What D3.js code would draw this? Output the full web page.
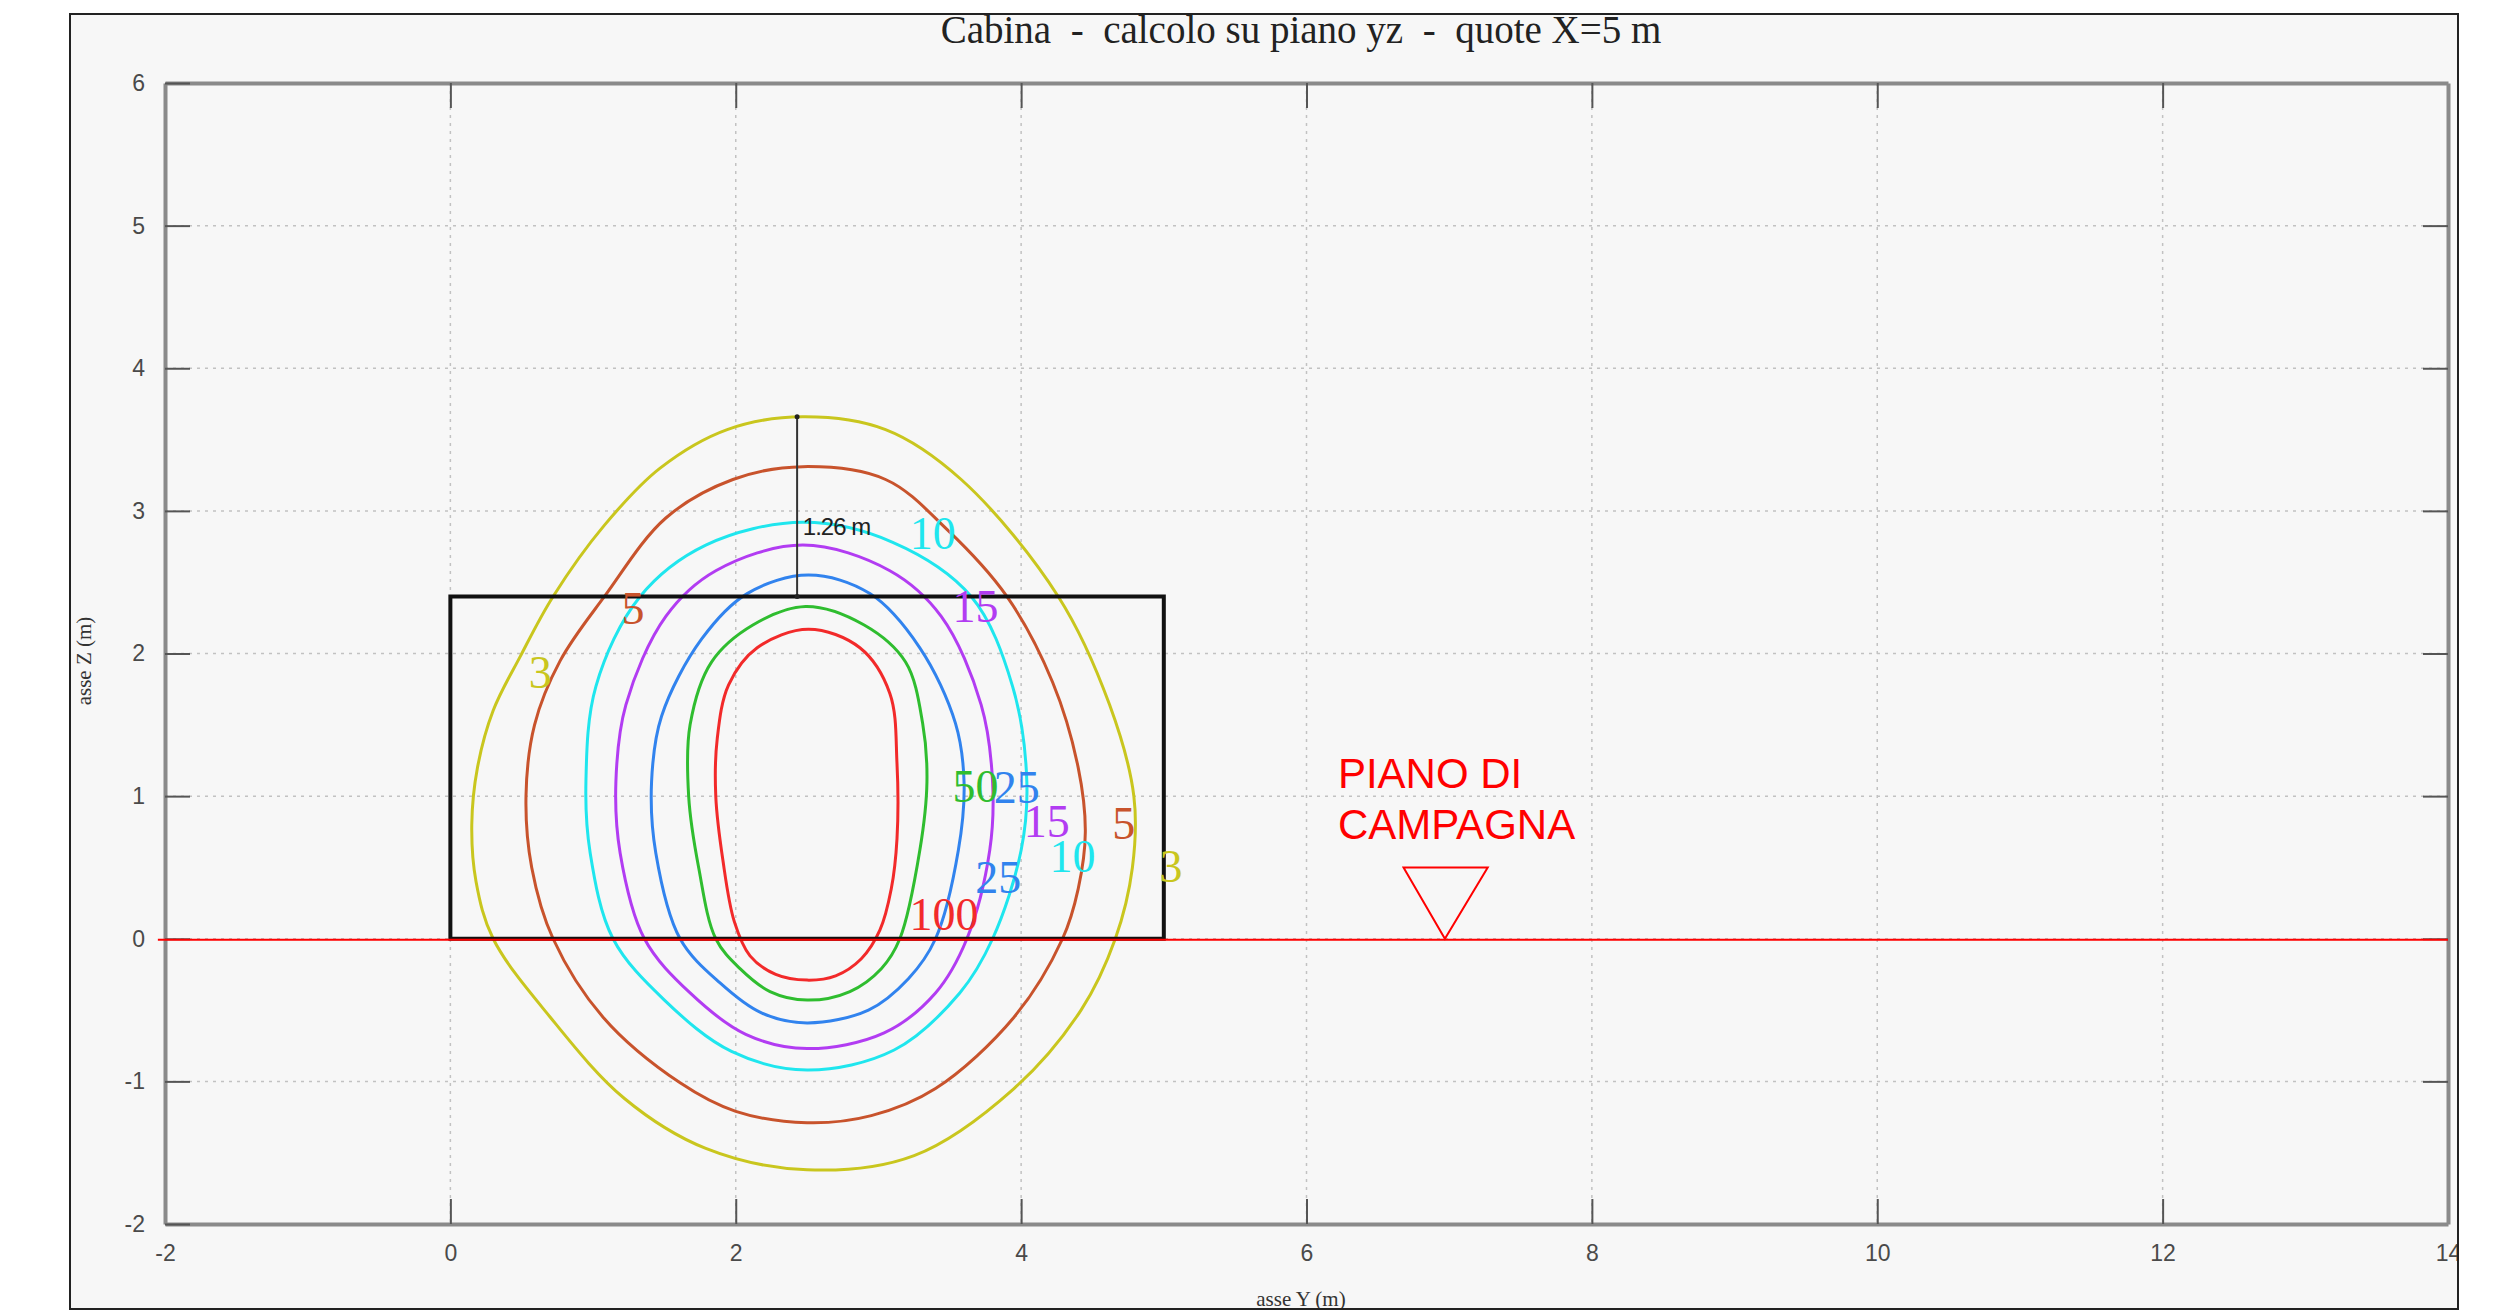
<!DOCTYPE html>
<html>
<head>
<meta charset="utf-8">
<script src="https://cdn.jsdelivr.net/npm/d3@7"></script>
<style>
    body { margin: 0; background: #ffffff; }
    svg text { font-family: "Liberation Sans", Arial, sans-serif; }
</style>
</head>
<body>
<div class="canvas"><svg width="2508" height="1315"></svg></div>
<script>
// values (y, z in metres)
var xTicks = [-2, 0, 2, 4, 6, 8, 10, 12, 14];
var yTicks = [-2, -1, 0, 1, 2, 3, 4, 5, 6];

var levels = [3, 5, 10, 15, 25, 50, 100];
var levelColors = ["#c9c61e", "#c8532c", "#1fe6ee", "#b23cf2", "#3183ee", "#2fbd2f", "#f22a2a"];

var iso3 = [[2.47,3.66],[3.05,3.57],[3.58,3.22],[4.26,2.40],[4.62,1.64],[4.79,1.0],[4.78,0.5],[4.66,0.0],[4.42,-0.50],[3.95,-1.05],[3.25,-1.52],[2.50,-1.62],[1.79,-1.47],[1.22,-1.12],[0.70,-0.55],[0.30,0.0],[0.18,0.4],[0.15,0.8],[0.19,1.2],[0.30,1.6],[0.49,1.98],[0.72,2.40],[1.08,2.90],[1.47,3.30],[1.94,3.57]];
var iso5 = [[2.47,3.31],[3.05,3.22],[3.48,2.87],[3.90,2.40],[4.22,1.80],[4.40,1.20],[4.45,0.75],[4.40,0.35],[4.29,0.0],[3.95,-0.55],[3.40,-1.05],[2.95,-1.24],[2.50,-1.29],[2.00,-1.21],[1.61,-1.01],[1.07,-0.55],[0.72,0.0],[0.57,0.5],[0.53,1.0],[0.59,1.5],[0.77,1.95],[1.08,2.40],[1.51,2.95],[1.98,3.22]];
var iso10 = [[2.47,2.92],[3.10,2.78],[3.65,2.40],[3.94,1.77],[4.04,1.10],[4.00,0.62],[3.80,0.0],[3.57,-0.38],[3.11,-0.78],[2.50,-0.92],[1.97,-0.79],[1.50,-0.43],[1.14,0.0],[0.98,0.6],[0.95,1.10],[1.02,1.77],[1.33,2.40],[1.79,2.76]];
var iso15 = [[2.47,2.76],[3.08,2.58],[3.44,2.26],[3.72,1.64],[3.80,1.10],[3.78,0.62],[3.62,0.0],[3.40,-0.38],[3.04,-0.66],[2.50,-0.77],[2.07,-0.67],[1.68,-0.38],[1.36,0.0],[1.19,0.6],[1.16,1.10],[1.23,1.64],[1.51,2.26],[1.86,2.58]];
var iso25 = [[2.51,2.55],[2.94,2.42],[3.29,2.04],[3.54,1.51],[3.60,1.10],[3.56,0.62],[3.40,0.0],[3.21,-0.28],[2.93,-0.50],[2.50,-0.59],[2.18,-0.52],[1.89,-0.31],[1.61,0.0],[1.44,0.6],[1.41,1.10],[1.48,1.56],[1.76,2.10],[2.08,2.42]];
var iso50 = [[2.49,2.33],[2.90,2.20],[3.19,1.94],[3.31,1.51],[3.34,1.10],[3.29,0.62],[3.15,0.0],[3.02,-0.21],[2.80,-0.37],[2.50,-0.43],[2.24,-0.37],[2.03,-0.21],[1.86,0.0],[1.74,0.5],[1.67,1.0],[1.68,1.5],[1.83,1.94],[2.12,2.20]];
var iso100 = [[2.51,2.17],[2.87,2.04],[3.08,1.72],[3.13,1.23],[3.13,0.70],[3.09,0.35],[3.01,0.06],[2.88,-0.14],[2.70,-0.26],[2.50,-0.29],[2.28,-0.25],[2.10,-0.12],[1.99,0.12],[1.91,0.55],[1.86,1.0],[1.87,1.40],[1.95,1.78],[2.15,2.04]];
var contours = [iso3, iso5, iso10, iso15, iso25, iso50, iso100];

// contour labels: level, y, z (centre of text)
var labelLevel = [10, 15, 5, 3, 50, 25, 15, 5, 10, 3, 25, 100];
var labelY = [3.38, 3.68, 1.28, 0.63, 3.68, 3.97, 4.18, 4.72, 4.36, 5.05, 3.84, 3.46];
var labelZ = [2.84, 2.33, 2.32, 1.87, 1.07, 1.06, 0.82, 0.81, 0.58, 0.51, 0.43, 0.17];

// cabin outline and ground marker
var cabin = [[0, 0], [5, 0], [5, 2.4], [0, 2.4]];
var groundZ = 0;
var marker = [[6.68, 0.5], [7.27, 0.5], [6.97, 0]];
var markerText = ["PIANO DI", "CAMPAGNA"];
var dimY = 2.43;
var dimZ = [2.4, 3.66];
var dimText = "1.26 m";

var svg = d3.select( ".canvas" ).select( "svg" );

var x = d3.scaleLinear().domain([-2, 14]).range([165, 2448]);
var y = d3.scaleLinear().domain([-2, 6]).range([1224, 83]);

//frame
svg.append("rect")
    .attr("x", 70).attr("y", 14)
    .attr("width", 2388).attr("height", 1295)
    .style("fill", "#f7f7f7")
    .style("stroke", "#222")
    .style("stroke-width", 2);

svg.append("defs").append("clipPath").attr("id", "frameclip")
    .append("rect").attr("x", 71).attr("y", 15).attr("width", 2386).attr("height", 1293);

var g = svg.append("g").attr("clip-path", "url(#frameclip)");

//title
g.append("text")
    .attr("x", 1301).attr("y", 43)
    .attr("text-anchor", "middle")
    .style("font-family", "'Liberation Serif', 'Times New Roman', serif")
    .style("font-size", "39px")
    .style("fill", "#222")
    .style("white-space", "pre")
    .text("Cabina  -  calcolo su piano yz  -  quote X=5 m");

//grid
g.selectAll(".gridx")
    .data(xTicks.slice(1, -1))
    .enter()
    .append("line").attr("class", "gridx")
    .attr("x1", function(d){ return x(d); })
    .attr("x2", function(d){ return x(d); })
    .attr("y1", y(6)).attr("y2", y(-2))
    .style("stroke", "#c2c2c2")
    .style("stroke-width", 1.5)
    .style("stroke-dasharray", "3,5");

g.selectAll(".gridy")
    .data(yTicks.slice(1, -1))
    .enter()
    .append("line").attr("class", "gridy")
    .attr("y1", function(d){ return y(d); })
    .attr("y2", function(d){ return y(d); })
    .attr("x1", x(-2)).attr("x2", x(14))
    .style("stroke", "#c2c2c2")
    .style("stroke-width", 1.5)
    .style("stroke-dasharray", "3,5");

//axes
var plain = function(d){ return String(d); };
var axisB = d3.axisBottom(x).tickValues(xTicks).tickSizeInner(-25).tickSizeOuter(0).tickPadding(21).tickFormat(plain);
var axisT = d3.axisTop(x).tickValues(xTicks.slice(1, -1)).tickSizeInner(-25).tickSizeOuter(0).tickFormat("");
var axisL = d3.axisLeft(y).tickValues(yTicks).tickSizeInner(-25).tickSizeOuter(0).tickPadding(20).tickFormat(plain);
var axisR = d3.axisRight(y).tickValues(yTicks.slice(1, -1)).tickSizeInner(-25).tickSizeOuter(0).tickFormat("");

g.append("g").attr("class", "axis").attr("transform", "translate(0," + y(-2) + ")").call(axisB);
g.append("g").attr("class", "axis").attr("transform", "translate(0," + y(6) + ")").call(axisT);
g.append("g").attr("class", "axis").attr("transform", "translate(" + x(-2) + ",0)").call(axisL);
g.append("g").attr("class", "axis").attr("transform", "translate(" + x(14) + ",0)").call(axisR);

g.selectAll(".axis .domain").style("stroke", "#8a8a8a").style("stroke-width", 4);
g.selectAll(".axis .tick line").style("stroke", "#555").style("stroke-width", 2);
g.selectAll(".axis .tick text")
    .style("font-family", "'Liberation Sans', Arial, sans-serif")
    .style("font-size", "23px")
    .style("fill", "#4a4a4a");

//axis titles
g.append("text")
    .attr("x", 1301).attr("y", 1306)
    .attr("text-anchor", "middle")
    .style("font-family", "'Liberation Serif', serif")
    .style("font-size", "21px")
    .style("fill", "#333")
    .text("asse Y (m)");

g.append("text")
    .attr("transform", "translate(91,661) rotate(-90)")
    .attr("text-anchor", "middle")
    .style("font-family", "'Liberation Serif', serif")
    .style("font-size", "21px")
    .style("fill", "#333")
    .text("asse Z (m)");

//contours
var isoLine = d3.line()
    .x(function(d){ return x(d[0]); })
    .y(function(d){ return y(d[1]); })
    .curve(d3.curveCatmullRomClosed.alpha(0.5));

g.selectAll(".iso")
    .data(contours)
    .enter()
    .append("path").attr("class", "iso")
    .attr("d", isoLine)
    .style("fill", "none")
    .style("stroke", function(d, i){ return levelColors[i]; })
    .style("stroke-width", 3);

//cabin
g.append("path")
    .attr("d", d3.line().x(function(d){ return x(d[0]); }).y(function(d){ return y(d[1]); })(cabin) + "Z")
    .style("fill", "none")
    .style("stroke", "#111")
    .style("stroke-width", 4);

//ground line
g.append("line")
    .attr("x1", x(-2.05)).attr("x2", x(14))
    .attr("y1", y(groundZ) + 1).attr("y2", y(groundZ) + 1)
    .style("stroke", "#ff0000")
    .style("stroke-width", 2);

g.append("path")
    .attr("d", d3.line().x(function(d){ return x(d[0]); }).y(function(d){ return y(d[1]); })(marker) + "Z")
    .style("fill", "none")
    .style("stroke", "#ff0000")
    .style("stroke-width", 2);

g.selectAll(".mtext")
    .data(markerText)
    .enter()
    .append("text").attr("class", "mtext")
    .attr("x", x(6.22))
    .attr("y", function(d, i){ return y(1.06) + i * 51; })
    .style("font-family", "'Liberation Sans', Arial, sans-serif")
    .style("font-size", "42px")
    .style("fill", "#ff0000")
    .text(function(d){ return d; });

//dimension 1.26 m
g.append("line")
    .attr("x1", x(dimY)).attr("x2", x(dimY))
    .attr("y1", y(dimZ[0])).attr("y2", y(dimZ[1]))
    .style("stroke", "#333")
    .style("stroke-width", 2);

g.selectAll(".dimend")
    .data(dimZ)
    .enter()
    .append("circle").attr("class", "dimend")
    .attr("cx", x(dimY))
    .attr("cy", function(d){ return y(d); })
    .attr("r", 2.5)
    .style("fill", "#222");

g.append("text")
    .attr("x", x(2.47)).attr("y", y(2.83))
    .style("font-family", "'Liberation Sans', Arial, sans-serif")
    .style("font-size", "24px")
    .style("letter-spacing", "-1px")
    .style("fill", "#222")
    .text(dimText);

//contour labels
g.selectAll(".isolabel")
    .data(labelLevel)
    .enter()
    .append("text").attr("class", "isolabel")
    .attr("x", function(d, i){ return x(labelY[i]); })
    .attr("y", function(d, i){ return y(labelZ[i]); })
    .attr("dy", "0.34em")
    .attr("text-anchor", "middle")
    .style("font-family", "'Liberation Serif', 'Times New Roman', serif")
    .style("font-size", "46px")
    .style("fill", function(d){ return levelColors[levels.indexOf(d)]; })
    .text(function(d){ return d; });
</script>
</body>
</html>
